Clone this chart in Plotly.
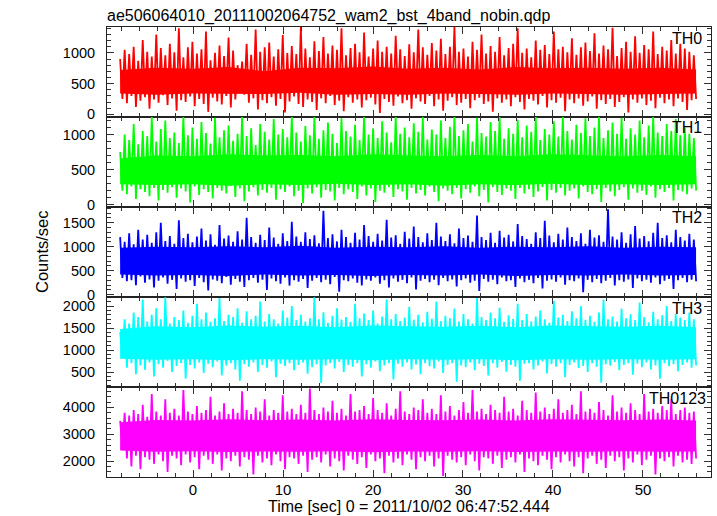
import plotly.graph_objects as go
from plotly.subplots import make_subplots

TITLE = "ae506064010_20111002064752_wam2_bst_4band_nobin.qdp"
X_TITLE = "Time [sec] 0 = 2011/10/02 06:47:52.444"
Y_TITLE = "Counts/sec"
PANEL_NAMES = ["TH0", "TH1", "TH2", "TH3", "TH0123"]
PANEL_COLORS = ["#ff0000", "#00ff00", "#0000ff", "#00ffff", "#ff00ff"]

BIN_START = -8.1   # s, first bin
BIN_WIDTH = 0.502  # s
CORE_STEP = 4.0    # s, spacing of the dense-core level estimates

# per-bin peak (hi) and trough (lo) rates, counts/sec
th0_hi = [900, 1050, 980, 1100, 870, 1210, 1020, 940, 1300, 1080,
          960, 1150, 1010, 1400, 930, 1090, 1180, 990, 1060, 1350,
          880, 1000, 1120, 950, 1250, 1040, 800, 860, 1150, 970,
          1380, 1020, 1090, 1170, 940, 1060, 1290, 1000, 1110, 980,
          1420, 1070, 930, 1190, 1030, 1260, 990, 1120, 1050, 1400,
          960, 1080, 1150, 1010, 1330, 940, 1070, 1200, 1020, 1100,
          990, 1280, 1060, 950, 1140, 1010, 1380, 1090, 970, 1160,
          1040, 1230, 980, 1100, 1420, 1020, 1070, 940, 1180, 1050,
          1300, 990, 1110, 1020, 1260, 960, 1080, 1150, 1400, 1000,
          1070, 930, 1200, 1050, 1130, 980, 1350, 1060, 1100, 1010,
          1240, 970, 1090, 1170, 1030, 1320, 990, 1120, 1060, 1410,
          950, 1080, 1180, 1020, 1270, 1000, 1130, 1060, 1350, 980,
          1100, 1040, 1210, 990, 1150, 1070, 1020, 960]
th0_lo = [250, 180, 300, 120, 220, 280, 90, 240, 190, 310,
          150, 260, 60, 230, 200, 290, 130, 250, 170, 40,
          270, 210, 160, 300, 110, 240, 350, 320, 190, 260,
          80, 230, 180, 280, 140, 250, 30, 210, 290, 170,
          120, 240, 200, 70, 260, 180, 300, 150, 220, 50,
          280, 190, 240, 110, 230, 270, 160, 20, 250, 200,
          140, 290, 180, 230, 90, 260, 210, 170, 300, 130,
          240, 60, 220, 280, 150, 190, 250, 100, 230, 270,
          170, 210, 40, 260, 190, 240, 130, 280, 200, 80,
          250, 220, 160, 300, 110, 230, 190, 270, 50, 240,
          180, 260, 140, 210, 290, 90, 230, 170, 250, 120,
          200, 280, 30, 240, 190, 260, 150, 220, 100, 270,
          180, 240, 130, 260, 200, 70, 230, 250]

th1_hi = [750, 1000, 920, 1150, 860, 1050, 980, 1250, 900, 1080,
          1200, 950, 1030, 880, 1260, 990, 1100, 940, 1180, 1020,
          870, 1240, 960, 1060, 1130, 910, 1010, 1270, 980, 1090,
          850, 1150, 1040, 930, 1220, 1000, 1080, 960, 1260, 1030,
          900, 1120, 990, 1250, 940, 1060, 1170, 1010, 880, 1230,
          1050, 970, 1140, 920, 1280, 1000, 1090, 950, 1190, 1030,
          890, 1260, 1010, 1100, 960, 1160, 1040, 1250, 930, 1070,
          1000, 1200, 950, 1110, 1270, 980, 1060, 1150, 900, 1240,
          1020, 970, 1180, 1050, 1260, 940, 1090, 1010, 1210, 960,
          1130, 1040, 1250, 920, 1080, 1000, 1190, 970, 1270, 1050,
          930, 1140, 1020, 1230, 980, 1100, 1260, 950, 1060, 1170,
          1010, 1240, 940, 1090, 1000, 1200, 960, 1130, 1260, 1030,
          980, 1150, 1050, 1220, 990, 1100, 1010, 950]
th1_lo = [200, 150, 260, 80, 220, 180, 120, 240, 60, 210,
          170, 250, 100, 230, 190, 30, 260, 140, 220, 180,
          90, 240, 200, 160, 270, 110, 230, 50, 190, 250,
          130, 210, 170, 240, 70, 220, 180, 260, 120, 200,
          20, 230, 160, 250, 100, 210, 190, 60, 240, 150,
          220, 180, 80, 260, 130, 230, 40, 200, 170, 250,
          110, 220, 190, 70, 240, 160, 210, 130, 260, 180,
          50, 230, 200, 150, 240, 90, 220, 170, 260, 120,
          210, 30, 250, 180, 140, 230, 200, 80, 240, 160,
          220, 110, 190, 250, 60, 210, 170, 240, 130, 200,
          230, 90, 260, 180, 150, 220, 40, 240, 190, 120,
          210, 250, 70, 230, 170, 200, 140, 260, 100, 220,
          180, 240, 60, 210, 190, 150, 230, 200]

th2_hi = [1200, 1100, 1280, 1050, 1350, 1150, 1250, 1080, 1300, 1500,
          1120, 1220, 1060, 1550, 1180, 1270, 1090, 1210, 1380, 1130,
          1260, 1040, 1450, 1170, 1230, 1100, 1320, 1150, 1600, 1200,
          1080, 1250, 1140, 1400, 1190, 1060, 1280, 1120, 1520, 1210,
          1100, 1300, 1160, 1240, 1070, 1750, 1180, 1260, 1110, 1350,
          1200, 1080, 1290, 1150, 1450, 1220, 1100, 1270, 1130, 1560,
          1190, 1240, 1060, 1310, 1170, 1420, 1200, 1090, 1280, 1140,
          1500, 1210, 1120, 1260, 1070, 1380, 1180, 1230, 1100, 1650,
          1200, 1140, 1290, 1080, 1330, 1190, 1250, 1110, 1470, 1220,
          1160, 1060, 1300, 1180, 1540, 1230, 1090, 1270, 1150, 1400,
          1200, 1120, 1280, 1060, 1350, 1190, 1240, 1100, 1780, 1210,
          1150, 1300, 1080, 1260, 1430, 1170, 1220, 1110, 1290, 1500,
          1180, 1240, 1090, 1350, 1200, 1130, 1270, 1150]
th2_lo = [350, 280, 300, 200, 380, 250, 320, 150, 290, 360,
          230, 310, 120, 340, 270, 300, 180, 350, 260, 90,
          320, 290, 240, 370, 210, 330, 270, 160, 300, 350,
          250, 310, 100, 340, 280, 230, 360, 190, 300, 270,
          330, 140, 290, 350, 260, 310, 220, 370, 60, 300,
          280, 340, 250, 190, 320, 290, 360, 230, 300, 150,
          340, 270, 310, 240, 360, 110, 290, 330, 260, 310,
          200, 350, 280, 320, 170, 300, 340, 250, 290, 80,
          330, 270, 310, 220, 360, 280, 300, 160, 340, 260,
          310, 240, 350, 130, 290, 320, 270, 360, 210, 300,
          280, 340, 50, 310, 260, 330, 240, 290, 350, 190,
          300, 270, 320, 140, 340, 280, 310, 250, 360, 220,
          290, 330, 120, 300, 350, 260, 310, 280]

th3_hi = [1400, 1700, 1600, 1850, 1750, 2150, 1650, 1800, 1950, 1700,
          2200, 1600, 1750, 1680, 1900, 1620, 1780, 2050, 1700, 1850,
          1640, 1720, 2180, 1660, 1800, 1750, 1950, 1620, 1880, 1700,
          1780, 2100, 1650, 1820, 1700, 1600, 1900, 1740, 2000, 1680,
          1800, 1650, 1720, 2200, 1700, 1860, 1620, 1780, 1950, 1690,
          1750, 1640, 2050, 1720, 1830, 1680, 1900, 1600, 1760, 2150,
          1700, 1820, 1660, 1740, 1980, 1690, 1800, 1630, 1870, 1710,
          2100, 1660, 1780, 1720, 1940, 1650, 1820, 1700, 1600, 2180,
          1750, 1680, 1850, 1720, 1960, 1640, 1790, 1710, 2050, 1680,
          1820, 1650, 1760, 1900, 1700, 1620, 2120, 1740, 1800, 1660,
          1880, 1720, 2000, 1690, 1780, 1640, 1850, 2150, 1700, 1760,
          1650, 1940, 1720, 1810, 1680, 2080, 1750, 1630, 1870, 1700,
          1790, 2000, 1660, 1820, 1740, 1680, 1850, 1700]
th3_lo = [900, 600, 700, 450, 650, 550, 720, 400, 680, 600,
          750, 500, 640, 700, 350, 660, 580, 720, 480, 690,
          610, 740, 420, 650, 700, 560, 300, 680, 620, 720,
          500, 660, 600, 740, 380, 690, 640, 700, 540, 660,
          720, 460, 610, 680, 250, 650, 700, 580, 730, 500,
          660, 620, 700, 400, 680, 600, 740, 520, 650, 700,
          330, 690, 620, 720, 560, 670, 450, 700, 630, 580,
          740, 480, 660, 700, 280, 650, 610, 720, 540, 690,
          640, 420, 700, 600, 730, 510, 660, 620, 300, 690,
          700, 560, 650, 740, 470, 680, 620, 700, 380, 660,
          720, 590, 640, 500, 700, 620, 260, 680, 650, 730,
          540, 660, 700, 440, 690, 610, 720, 560, 650, 350,
          700, 630, 680, 520, 660, 720, 600, 650]

th0123_hi = [3500, 3800, 3700, 3900, 3750, 4100, 3650, 4500, 3850, 3700,
             4300, 3800, 3950, 3700, 4650, 3850, 3750, 4050, 3800, 3900,
             4400, 3700, 3850, 4150, 3750, 3950, 3800, 4600, 3900, 3750,
             4000, 3850, 4300, 3700, 3900, 3800, 4450, 3850, 3950, 3750,
             4100, 3800, 4700, 3900, 3750, 4000, 3850, 4250, 3800, 3950,
             3700, 4500, 3850, 3900, 4050, 3750, 4350, 3900, 3800, 4150,
             3700, 3950, 4600, 3850, 3750, 4000, 3900, 4300, 3800, 3950,
             3750, 4450, 3850, 4050, 3700, 3900, 4200, 3800, 4650, 3850,
             3950, 3750, 4100, 3900, 3800, 4400, 3850, 3950, 3700, 4250,
             3900, 3800, 4550, 3850, 4000, 3750, 3950, 4300, 3800, 3900,
             4100, 3750, 4600, 3850, 3950, 3800, 4200, 3900, 3700, 4450,
             3850, 4000, 3800, 4150, 3900, 3750, 4500, 3850, 3950, 3800,
             4050, 3900, 4300, 3750, 3900, 4000, 3800, 3850]
th0123_lo = [2500, 2100, 1800, 2200, 1700, 2150, 2050, 1900, 2250, 2000,
             1600, 2200, 2100, 1850, 2250, 1950, 2150, 1700, 2200, 2050,
             1900, 2250, 1650, 2100, 2000, 2200, 1800, 2150, 2050, 1500,
             2200, 1950, 2100, 1850, 2250, 2000, 1700, 2150, 2100, 1900,
             2200, 1600, 2050, 2150, 1950, 2250, 1800, 2100, 2000, 1650,
             2200, 2050, 1900, 2150, 1750, 2250, 2000, 2100, 1550, 2200,
             1950, 2100, 1850, 2250, 2050, 1700, 2150, 2000, 2200, 1800,
             2100, 1450, 2200, 2050, 1950, 2150, 1850, 2250, 2000, 1650,
             2150, 2100, 1900, 2200, 1750, 2050, 2150, 1950, 2250, 1600,
             2100, 2000, 1850, 2200, 2050, 1700, 2150, 1950, 2250, 2000,
             1800, 2150, 1550, 2100, 2200, 1900, 2050, 1750, 2200, 2000,
             2150, 1650, 2100, 1950, 2250, 1850, 2050, 2200, 1500, 2100,
             2000, 2150, 1800, 2200, 1950, 2050, 1900, 2100]

# upper / lower edge of the solid (dense) part of each light curve, every 4 s
th0_core_top = [720, 760, 740, 770, 700, 760, 750, 780, 740, 760, 730, 770, 750, 760, 740, 760, 730]
th0_core_bot = [340, 320, 340, 330, 330, 350, 320, 330, 320, 340, 330, 320, 340, 330, 320, 330, 340]
th1_core_top = [660, 700, 690, 720, 700, 710, 690, 720, 700, 690, 710, 690, 720, 700, 690, 710, 690]
th1_core_bot = [290, 280, 290, 270, 290, 280, 300, 280, 290, 270, 290, 280, 300, 280, 290, 280, 290]
th2_core_top = [980, 1000, 990, 1010, 990, 1020, 980, 1000, 990, 1010, 980, 1000, 990, 1010, 980, 1000, 990]
th2_core_bot = [420, 400, 410, 390, 420, 400, 410, 390, 410, 400, 420, 390, 410, 400, 420, 400, 410]
th3_core_top = [1480, 1540, 1520, 1560, 1530, 1550, 1520, 1560, 1540, 1530, 1550, 1520, 1560, 1540, 1530, 1550, 1520]
th3_core_bot = [800, 780, 790, 770, 790, 780, 790, 770, 790, 780, 790, 770, 790, 780, 790, 780, 790]
th0123_core_top = [3450, 3530, 3510, 3560, 3520, 3550, 3510, 3560, 3530, 3520, 3550, 3510, 3560, 3530, 3520, 3550, 3510]
th0123_core_bot = [2400, 2350, 2370, 2340, 2360, 2350, 2370, 2330, 2360, 2350, 2370, 2340, 2360, 2350, 2370, 2350, 2360]

SERIES_HI = [th0_hi, th1_hi, th2_hi, th3_hi, th0123_hi]
SERIES_LO = [th0_lo, th1_lo, th2_lo, th3_lo, th0123_lo]
CORE_TOP = [th0_core_top, th1_core_top, th2_core_top, th3_core_top, th0123_core_top]
CORE_BOT = [th0_core_bot, th1_core_bot, th2_core_bot, th3_core_bot, th0123_core_bot]

X_RANGE = [-9.56, 57.56]
Y_RANGES = [[-44, 1422], [-33, 1250], [-48, 1827], [160, 2205], [1410, 4760]]
Y_DTICK = [500, 500, 500, 500, 1000]
Y_MINOR = [100, 100, 100, 100, 200]

FONT = "Liberation Sans, Arial, Helvetica, sans-serif"
W, H = 717, 516
ML, MR, MT, MB = 107, 6, 27, 39
PANEL_H = (H - MT - MB) / 5
LABEL_RIGHT_PX = [704, 704, 704, 704, 708]

fig = make_subplots(rows=5, cols=1, shared_xaxes=True, vertical_spacing=0)

for k in range(5):
    hi, lo = SERIES_HI[k], SERIES_LO[k]
    last_t = BIN_START + (len(hi) - 1) * BIN_WIDTH + BIN_WIDTH / 2
    # dense core as a filled band
    top, bot = CORE_TOP[k], CORE_BOT[k]
    ct = [min(BIN_START + j * CORE_STEP, last_t) for j in range(len(top))]
    fig.add_trace(go.Scatter(x=ct + ct[::-1], y=top + bot[::-1], mode="lines",
                             fill="toself", fillcolor=PANEL_COLORS[k],
                             line=dict(width=0, color=PANEL_COLORS[k]),
                             showlegend=False, hoverinfo="skip"),
                  row=k + 1, col=1)
    xs, ys = [], []
    for i in range(len(hi)):
        t = BIN_START + i * BIN_WIDTH
        xs += [t, t + BIN_WIDTH / 2]
        ys += [hi[i], lo[i]]
    fig.add_trace(go.Scatter(x=xs, y=ys, mode="lines",
                             line=dict(color=PANEL_COLORS[k], width=1.8),
                             showlegend=False, hoverinfo="skip"),
                  row=k + 1, col=1)
    fig.update_yaxes(range=Y_RANGES[k], dtick=Y_DTICK[k], tick0=0,
                     minor=dict(dtick=Y_MINOR[k], ticklen=4, ticks="inside",
                                tickcolor="#333333"),
                     row=k + 1, col=1)
    yref = "y domain" if k == 0 else f"y{k + 1} domain"
    fig.add_annotation(text=PANEL_NAMES[k], xref="x domain", yref=yref,
                       x=(LABEL_RIGHT_PX[k] - ML) / (W - ML - MR), y=1 - 11 / PANEL_H,
                       xanchor="right", yanchor="middle",
                       showarrow=False, font=dict(size=16, color="black", family=FONT))

fig.update_xaxes(range=X_RANGE, dtick=10, tick0=0, ticks="inside", ticklen=7,
                 tickcolor="#333333", showline=True, linecolor="#222222", linewidth=1,
                 mirror="allticks", showgrid=False, zeroline=False, ticklabelstandoff=-1,
                 minor=dict(dtick=2, ticklen=4, ticks="inside", tickcolor="#333333"),
                 tickfont=dict(size=15, family=FONT, color="black"))
fig.update_yaxes(ticks="inside", ticklen=7, tickcolor="#333333", showline=True,
                 linecolor="#222222", linewidth=1, mirror="allticks",
                 showgrid=False, zeroline=False, ticklabelstandoff=8,
                 tickfont=dict(size=14.5, family=FONT, color="black"))

fig.add_annotation(text=X_TITLE, xref="paper", yref="paper",
                   x=(409 - ML) / (W - ML - MR), y=-(506 - (H - MB)) / (H - MT - MB),
                   showarrow=False, xanchor="center", yanchor="middle",
                   font=dict(size=16, family=FONT, color="black"))
fig.add_annotation(text=Y_TITLE, xref="paper", yref="paper",
                   x=(42 - ML) / (W - ML - MR), y=0.5,
                   textangle=-90, showarrow=False, xanchor="center", yanchor="middle",
                   font=dict(size=16.5, family=FONT, color="black"))

fig.update_layout(
    width=W, height=H,
    margin=dict(l=ML, r=MR, t=MT, b=MB, autoexpand=False),
    paper_bgcolor="white", plot_bgcolor="white",
    title=dict(text=TITLE, x=ML / W, xanchor="left", y=1 - 15.5 / H, yanchor="middle",
               font=dict(size=16, family=FONT, color="black")),
)

fig.write_html("out.html", config={"displayModeBar": False},
               post_script="document.body.style.margin='0';document.body.style.overflow='hidden';")
